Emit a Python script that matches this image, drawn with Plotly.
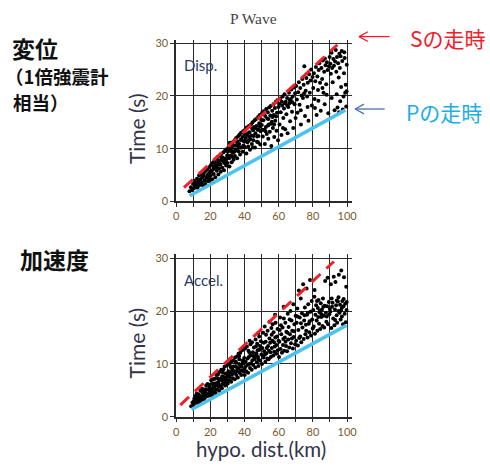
import plotly.graph_objects as go

W, H = 490, 468

# ---------------- data ----------------
x_ticks = [0, 10, 20, 30, 40, 50, 60, 70, 80, 90, 100]
x_tick_text = ["0", "", "20", "", "40", "", "60", "", "80", "", "100"]
y_ticks = [0, 10, 20, 30]
y_tick_text = ["0", "10", "20", "30"]

# travel-time lines (distance km, time s)
disp_s_x = [4.6, 94.3]
disp_s_y = [2.6, 29.7]
disp_p_x = [8.0, 99.0]
disp_p_y = [1.06, 17.3]
accel_s_x = [2.4, 92.3]
accel_s_y = [2.2, 29.4]
accel_p_x = [9.0, 99.6]
accel_p_y = [1.37, 17.3]

disp_pts = [
 (7.8,1.9),(8.6,2.7),(9.3,2.1),(9.9,3.3),(10.4,2.5),(10.8,3.9),(11.3,2.9),(11.7,3.5),(12.2,4.3),(12.6,2.6),(13.1,3.8),(13.4,4.9),(13.9,3.1),(14.2,4.2),(14.7,5.1),(15.1,3.6),(15.4,4.6),(15.9,2.9),(16.3,5.4),(16.6,4.0),(17.0,3.3),(17.4,5.8),(17.7,4.5),(18.1,6.1),(18.5,3.8),(18.8,5.2),(19.2,4.4),(19.5,6.5),(19.9,5.7),(12.9,3.2),(16.0,4.9),(18.3,4.9),(11.0,3.1),(14.5,3.4),(19.7,3.9),
 (20.2,4.9),(20.4,6.9),(20.8,5.6),(21.1,4.2),(21.3,7.3),(21.7,6.1),(22.0,5.2),(22.2,7.6),(22.6,6.6),(22.9,4.6),(23.2,7.1),(23.4,8.1),(23.8,5.8),(24.1,6.9),(24.3,8.4),(24.7,5.1),(25.0,7.7),(25.2,6.3),(25.6,8.7),(25.9,7.0),(26.1,5.6),(26.4,9.0),(26.8,7.8),(27.0,6.4),(27.3,8.3),(27.7,9.3),(28.0,5.9),(28.2,7.3),(28.6,9.6),(28.9,8.1),(29.2,6.8),(29.5,9.9),(29.8,8.7),(21.9,6.6),(23.6,6.4),(25.4,7.2),(27.5,7.6),(29.0,7.5),(24.5,7.5),(26.6,8.2),
 (30.1,7.3),(30.3,9.4),(30.7,10.3),(31.0,8.2),(31.2,6.6),(31.6,9.8),(31.9,10.8),(32.1,8.7),(32.5,7.4),(32.7,10.1),(33.0,11.2),(33.3,9.2),(33.6,7.9),(33.9,10.6),(34.2,11.6),(34.4,8.6),(34.8,9.9),(35.1,12.0),(35.3,10.7),(35.7,8.2),(36.0,11.3),(36.2,12.3),(36.6,9.5),(36.9,10.9),(37.1,12.7),(37.4,8.9),(37.8,11.7),(38.0,13.0),(38.3,10.2),(38.7,12.2),(39.0,9.4),(39.2,13.3),(39.6,11.4),(39.9,12.8),(30.5,8.6),(32.3,9.5),(34.0,9.4),(35.5,11.4),(36.4,10.4),(37.6,10.2),(38.5,11.6),(39.4,10.6),(33.1,8.4),(31.4,11.1),(35.9,9.6),
 (40.2,10.3),(40.4,13.6),(40.8,12.0),(41.1,9.1),(41.3,14.0),(41.7,11.2),(42.0,12.9),(42.2,10.4),(42.6,14.3),(42.9,13.1),(43.2,9.8),(43.4,11.8),(43.8,14.6),(44.1,12.5),(44.3,10.9),(44.7,15.0),(45.0,13.5),(45.2,11.6),(45.6,14.1),(45.9,15.4),(46.1,10.2),(46.4,12.9),(46.8,15.6),(47.0,14.3),(47.3,11.3),(47.7,13.6),(48.0,16.0),(48.2,12.4),(48.6,14.8),(48.9,16.4),(49.2,10.8),(49.4,13.3),(49.8,15.5),(41.5,12.6),(43.0,12.2),(44.5,13.8),(46.3,13.9),(47.5,12.3),(49.0,14.2),(40.6,11.4),(42.4,11.5),(45.4,12.4),(48.4,13.6),(44.9,10.2),(47.9,11.2),
 (50.1,14.5),(50.3,16.8),(50.7,12.3),(51.0,15.4),(51.2,17.1),(51.6,13.6),(51.9,10.9),(52.1,16.2),(52.5,14.1),(52.7,17.5),(53.0,12.8),(53.3,15.7),(53.6,16.9),(53.9,11.9),(54.2,14.6),(54.4,17.8),(54.8,13.2),(55.1,16.3),(55.3,18.1),(55.7,10.5),(56.0,15.1),(56.2,17.2),(56.6,13.9),(56.9,18.4),(57.1,16.4),(57.4,12.2),(57.8,17.7),(58.0,15.3),(58.3,18.9),(58.7,13.4),(59.0,16.8),(59.2,19.2),(59.6,11.6),(59.9,17.9),(50.5,13.6),(52.3,13.3),(53.8,14.4),(55.5,14.7),(57.3,14.6),(58.5,16.1),(54.0,15.6),(56.4,16.0),
 (60.2,18.5),(60.5,14.6),(60.9,19.5),(61.2,16.9),(61.6,12.6),(62.0,18.2),(62.3,19.9),(62.7,15.8),(63.1,17.6),(63.4,20.3),(63.8,13.7),(64.1,18.9),(64.5,16.5),(64.9,19.6),(65.2,12.9),(65.6,17.9),(66.0,20.6),(66.3,18.6),(66.7,15.2),(67.1,19.4),(67.4,21.2),(67.8,17.0),(68.2,19.9),(68.5,13.9),(68.9,21.6),(69.3,18.4),(69.6,20.5),(61.8,18.9),(63.6,18.6),(65.0,18.2),(66.5,19.2),(68.0,18.8),(62.5,13.9),(69.9,15.8),
 (70.2,21.9),(70.6,19.3),(71.0,16.8),(71.4,20.7),(71.8,22.6),(72.2,18.3),(72.6,21.5),(73.0,14.6),(73.4,20.1),(73.8,23.2),(74.2,19.6),(74.6,22.1),(75.0,25.6),(75.4,16.2),(75.8,21.0),(76.2,23.4),(76.6,19.9),(77.0,22.5),(77.4,15.3),(77.8,24.1),(78.2,20.6),(78.6,22.9),(79.0,25.0),(79.4,18.2),(79.8,23.6),(72.9,17.3),(76.9,17.9),(74.9,20.5),
 (80.2,21.5),(80.6,24.3),(81.0,19.4),(81.4,22.8),(81.8,25.5),(82.2,16.4),(82.6,23.7),(83.0,21.1),(83.4,24.9),(83.8,26.2),(84.2,22.5),(84.6,17.2),(85.0,25.3),(85.4,23.2),(85.8,26.7),(86.2,20.6),(86.6,24.6),(87.0,27.1),(87.4,25.8),(87.8,22.2),(88.2,26.4),(88.6,24.9),(89.0,16.7),(89.4,25.6),(89.8,27.4),(83.2,19.1),(85.6,21.5),(88.0,20.2),(81.2,17.7),(86.9,18.4),
 (90.2,26.1),(90.5,24.2),(90.9,28.2),(91.3,25.3),(91.6,22.6),(92.0,27.0),(92.3,25.7),(92.7,17.3),(93.0,26.5),(93.4,28.7),(93.7,24.6),(94.1,27.4),(94.4,17.8),(94.8,26.2),(95.1,23.5),(95.5,28.0),(95.8,25.3),(96.2,27.5),(96.5,21.7),(96.9,28.5),(97.2,26.6),(97.5,17.4),(97.9,19.9),(98.2,24.3),(98.6,27.2),(98.9,20.6),(99.2,22.1),(99.5,18.0),(99.7,20.9),(99.8,25.9),(93.9,20.3),(96.0,19.0),(91.0,19.6),(98.4,28.3),(95.3,16.9),
]

accel_pts = [
 (8.8,2.0),(9.6,2.7),(10.1,2.2),(10.6,3.4),(10.9,2.6),(11.3,3.9),(11.9,2.9),(12.1,4.4),(12.4,3.2),(12.9,2.5),(13.3,4.2),(13.5,3.5),(14.1,3.0),(14.2,4.9),(14.8,3.8),(15.1,3.2),(15.2,5.3),(15.8,4.1),(16.2,3.3),(16.3,5.0),(16.9,4.7),(17.0,3.7),(17.6,5.9),(17.7,4.4),(18.3,3.9),(18.4,6.2),(19.0,5.1),(19.1,4.0),(19.7,6.0),(19.8,4.6),(11.0,3.0),(12.6,3.8),(14.4,3.4),(15.5,4.6),(16.6,4.1),(17.3,5.2),(18.8,4.4),(19.4,5.5),(13.7,2.8),(16.0,4.8),(10.3,2.9),(13.0,3.6),
 (20.3,4.4),(20.5,6.9),(20.9,5.3),(21.3,4.7),(21.6,7.1),(21.8,5.8),(22.1,4.6),(22.7,7.2),(22.8,6.3),(23.3,5.1),(23.5,7.9),(23.9,6.4),(24.1,5.2),(24.7,8.1),(24.8,6.6),(25.3,5.7),(25.5,8.5),(25.8,7.0),(26.3,5.6),(26.4,8.9),(26.9,7.6),(27.1,6.2),(27.7,9.0),(27.8,7.5),(28.3,6.5),(28.4,9.5),(28.9,8.2),(29.3,6.9),(29.5,9.7),(29.9,8.0),(20.7,5.2),(21.5,6.3),(22.4,5.5),(23.0,6.0),(24.4,7.3),(25.0,6.1),(26.1,7.2),(27.4,8.3),(28.0,7.0),(29.1,7.4),(21.1,4.0),(23.1,4.5),(25.2,4.9),(26.8,5.4),(28.7,5.9),(24.6,5.8),(27.3,6.8),
 (30.2,6.3),(30.4,9.9),(30.8,7.8),(31.1,6.9),(31.5,10.1),(31.7,8.4),(32.2,6.6),(32.4,10.5),(32.9,9.0),(33.1,7.3),(33.6,10.7),(33.8,8.6),(34.3,7.1),(34.5,11.2),(34.9,9.5),(35.2,7.9),(35.6,11.4),(35.8,9.1),(36.1,7.4),(36.5,11.9),(36.8,10.0),(37.2,8.3),(37.5,12.1),(37.9,9.7),(38.1,7.9),(38.6,12.6),(38.8,10.6),(39.3,8.6),(39.5,12.8),(39.8,11.1),(30.6,8.6),(31.9,9.4),(32.7,8.0),(33.4,9.5),(34.1,8.3),(35.0,10.4),(35.4,8.6),(36.3,9.2),(37.0,10.9),(37.7,8.8),(38.3,9.5),(39.0,10.1),(39.7,9.0),(31.3,7.5),(34.7,10.2),(36.9,11.5),
 (40.1,7.9),(40.3,12.9),(40.7,10.4),(41.0,8.6),(41.4,13.3),(41.8,11.0),(42.1,8.3),(42.3,12.5),(42.8,10.0),(43.2,9.2),(43.5,13.7),(43.7,11.6),(44.2,8.9),(44.4,14.1),(44.9,12.2),(45.1,9.8),(45.5,13.1),(45.8,10.9),(46.3,9.3),(46.5,14.6),(46.9,12.0),(47.2,10.3),(47.4,13.8),(47.9,11.3),(48.1,9.6),(48.6,15.2),(48.8,12.7),(49.2,10.6),(49.6,14.3),(49.9,11.8),(40.5,9.4),(41.6,9.8),(42.5,11.3),(43.9,10.1),(44.6,10.7),(45.3,11.5),(46.1,11.1),(47.0,11.7),(47.7,12.6),(48.3,10.8),(49.0,13.4),(42.9,12.1),(46.7,13.3),(43.0,14.4),(48.0,15.8),
 (50.2,10.0),(50.4,13.0),(50.9,15.9),(51.1,11.2),(51.5,12.4),(51.8,17.1),(52.2,10.4),(52.4,14.2),(52.8,12.0),(53.3,11.0),(53.5,16.3),(53.8,13.4),(54.1,10.9),(54.6,14.8),(54.7,18.0),(55.2,12.2),(55.4,11.3),(55.9,15.5),(56.0,13.0),(56.5,17.5),(56.8,11.6),(57.3,14.1),(57.4,12.3),(57.9,19.3),(58.0,15.0),(58.5,11.9),(58.7,13.6),(59.3,16.6),(59.4,12.6),(59.9,14.4),(50.6,11.6),(51.3,14.0),(52.6,15.5),(53.0,13.0),(54.3,12.5),(55.0,14.0),(56.3,14.4),(57.0,16.0),(58.2,17.8),(59.0,15.2),(55.7,16.8),(52.0,11.8),(57.7,13.3),
 (60.2,11.3),(60.4,14.2),(60.8,18.8),(61.1,12.8),(61.5,15.6),(61.9,12.1),(62.3,16.9),(62.5,13.6),(62.9,20.8),(63.2,12.5),(63.6,15.0),(63.9,17.8),(64.3,13.4),(64.5,16.1),(64.9,12.4),(65.3,19.5),(65.6,14.6),(65.8,17.0),(66.2,13.1),(66.6,15.6),(66.9,20.0),(67.2,13.9),(67.5,18.2),(67.9,16.3),(68.3,12.9),(68.6,21.3),(68.8,15.1),(69.2,17.5),(69.6,13.7),(69.9,19.1),(61.3,17.3),(62.7,14.7),(64.0,14.2),(65.1,15.9),(66.4,18.4),(67.7,14.8),(69.0,16.2),(63.0,18.6),(60.6,16.4),
 (70.2,14.4),(70.5,17.8),(70.9,20.5),(71.2,13.5),(71.5,16.4),(71.8,23.9),(72.3,18.8),(72.6,15.2),(72.9,22.4),(73.2,14.1),(73.6,19.6),(73.9,16.9),(74.3,25.1),(74.6,14.7),(74.9,18.2),(75.3,20.7),(75.6,15.6),(75.9,17.4),(76.3,24.3),(76.6,19.3),(76.9,15.0),(77.3,21.3),(77.6,17.6),(77.9,16.0),(78.3,25.9),(78.6,19.9),(78.9,15.4),(79.3,21.9),(79.6,18.4),(79.9,16.7),(71.0,19.0),(73.0,17.7),(75.1,19.2),(77.1,19.7),(78.1,18.1),(72.0,14.9),(76.1,16.3),
 (80.2,20.2),(80.5,17.1),(80.9,22.7),(81.2,15.7),(81.5,19.3),(81.9,21.1),(82.2,18.2),(82.6,16.3),(82.9,20.6),(83.3,22.1),(83.6,17.6),(83.9,19.8),(84.3,16.6),(84.6,21.5),(84.9,18.9),(85.3,20.3),(85.6,17.2),(85.9,22.4),(86.3,19.1),(86.6,16.9),(86.9,21.0),(87.2,25.7),(87.6,19.7),(87.9,18.0),(88.3,20.9),(88.6,26.3),(88.9,17.5),(89.3,21.7),(89.6,19.4),(89.9,20.4),(81.0,24.0),(83.1,18.9),(85.1,19.4),(86.1,20.8),(88.1,19.0),(84.1,20.0),(82.4,21.9),
 (90.2,19.9),(90.5,25.1),(90.8,16.8),(91.2,20.8),(91.5,21.6),(91.9,18.6),(92.2,26.5),(92.6,17.3),(92.9,20.3),(93.2,25.5),(93.6,21.1),(93.9,19.2),(94.2,17.8),(94.6,21.8),(94.9,20.0),(95.2,26.9),(95.6,19.7),(95.9,21.2),(96.2,18.4),(96.6,27.7),(96.9,20.6),(97.2,21.9),(97.6,17.5),(97.9,20.9),(98.2,26.4),(98.6,19.5),(98.9,21.4),(99.2,17.9),(99.5,24.6),(99.7,20.2),(99.8,21.7),(91.0,22.4),(93.0,18.3),(95.0,22.6),(97.0,19.0),(98.0,22.3),(94.0,22.0),(96.4,20.1),
]

disp_x = [p[0] for p in disp_pts]
disp_y = [p[1] for p in disp_pts]
accel_x = [p[0] for p in accel_pts]
accel_y = [p[1] for p in accel_pts]

# ---------------- figure ----------------
def px(x):
    return x / W

def py(y):
    return 1 - y / H

RED = "#f0202a"
BLUE = "#4cc2ec"
GRID = "#2a2a2a"
TICKC = "#7a5a2e"

fig = go.Figure()

panels = [
    ("x", "y", disp_x, disp_y, disp_s_x, disp_s_y, disp_p_x, disp_p_y),
    ("x2", "y2", accel_x, accel_y, accel_s_x, accel_s_y, accel_p_x, accel_p_y),
]
for xa, ya, sx, sy, lsx, lsy, lpx, lpy in panels:
    fig.add_trace(go.Scatter(x=sx, y=sy, mode="markers", xaxis=xa, yaxis=ya,
                             marker=dict(color="black", size=4), showlegend=False,
                             cliponaxis=False))
    fig.add_trace(go.Scatter(x=lpx, y=lpy, mode="lines", xaxis=xa, yaxis=ya,
                             line=dict(color=BLUE, width=3.5), showlegend=False))
    fig.add_trace(go.Scatter(x=lsx, y=lsy, mode="lines", xaxis=xa, yaxis=ya,
                             line=dict(color=RED, width=3, dash="12px,8px"), showlegend=False))

xdom = [px(176), px(355)]
axis_common = dict(showline=True, linecolor=GRID, linewidth=1.5, showgrid=True,
                   gridcolor=GRID, gridwidth=1.3, zeroline=False, ticks="outside",
                   ticklen=4, tickcolor=GRID, tickwidth=1.3,
                   tickfont=dict(family="Lato", size=11, color=TICKC))

fig.update_layout(
    width=W, height=H, autosize=False,
    margin=dict(l=0, r=0, t=0, b=0),
    paper_bgcolor="white", plot_bgcolor="white",
    xaxis=dict(domain=xdom, range=[0, 103], anchor="y",
               tickmode="array", tickvals=x_ticks, ticktext=x_tick_text, **axis_common),
    yaxis=dict(domain=[py(201.7), py(37)], range=[0, 30.56], anchor="x",
               tickmode="array", tickvals=y_ticks, ticktext=y_tick_text, **axis_common),
    xaxis2=dict(domain=xdom, range=[0, 103], anchor="y2",
                tickmode="array", tickvals=x_ticks, ticktext=x_tick_text, **axis_common),
    yaxis2=dict(domain=[py(421.7), py(255)], range=[0, 30.9], anchor="x2",
                tickmode="array", tickvals=y_ticks, ticktext=y_tick_text, **axis_common),
)

CJK = "Noto Sans CJK JP"
TXT = "#33334a"
ann = []

def add_text(text, x, y, size, color, family, xanchor="left", angle=0, weight=None):
    f = dict(size=size, color=color, family=family)
    if weight:
        f["weight"] = weight
    ann.append(dict(text=text, x=px(x), y=py(y), xref="paper", yref="paper",
                    showarrow=False, xanchor=xanchor, yanchor="middle",
                    textangle=angle, font=f))

add_text("P Wave", 255, 15, 15.5, "#444444", "Liberation Serif", xanchor="center")
add_text("Disp.", 182, 62, 15, "#2c3a66", "Lato")
add_text("Accel.", 182, 282, 15, "#2c3a66", "Lato")
add_text("Time (s)", 136, 127, 21, TXT, "Lato", xanchor="center", angle=-90)
add_text("Time (s)", 136, 346, 21, TXT, "Lato", xanchor="center", angle=-90)
add_text("hypo. dist.(km)", 262, 455, 20.5, TXT, "Lato", xanchor="center")
add_text("変位", 7, 45, 23, "#111111", CJK, weight="bold")
add_text("（1倍強震計", 0, 74, 18.5, "#111111", CJK, weight="bold")
add_text("相当）", 8, 100, 18.5, "#111111", CJK, weight="bold")
add_text("加速度", 15, 261, 23, "#111111", CJK, weight="bold")
add_text("Sの走時", 412, 35, 21, RED, CJK)
add_text("Pの走時", 408, 110, 21, "#1aaee8", CJK)
fig.update_layout(annotations=ann)

# arrows (decorations)
shapes = []
def arrow(x0, x1, y, color):
    for (a, b, c, d) in [(x0, y, x1, y), (x0, y, x0 + 9, y - 5), (x0, y, x0 + 9, y + 5)]:
        shapes.append(dict(type="line", xref="paper", yref="paper",
                           x0=px(a), y0=py(b), x1=px(c), y1=py(d),
                           line=dict(color=color, width=1.3)))
arrow(362, 393, 33.3, RED)
arrow(358, 388, 107.3, "#4a72b0")
fig.update_layout(shapes=shapes)

fig.write_html("out.html")
